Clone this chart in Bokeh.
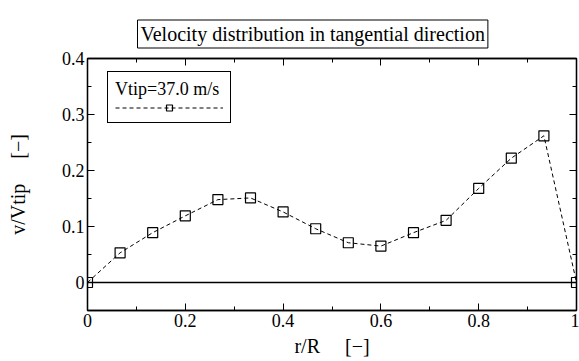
from bokeh.plotting import figure
from bokeh.models import (Range1d, LinearAxis, FixedTicker, CustomJSTickFormatter,
                          Span, Title, Legend, LegendItem)
from bokeh.embed import file_html
from bokeh.resources import INLINE

# data
r_R = [0, 1/15, 2/15, 3/15, 4/15, 5/15, 6/15, 7/15, 8/15, 9/15, 10/15, 11/15, 12/15, 13/15, 14/15, 1.0]
v_Vtip = [0.0, 0.053, 0.089, 0.119, 0.148, 0.151, 0.126, 0.096, 0.071, 0.065,
          0.089, 0.111, 0.168, 0.222, 0.262, 0.0]
x_ticks = [0, 0.2, 0.4, 0.6, 0.8, 1.0]
x_minor = [0.1, 0.3, 0.5, 0.7, 0.9]
y_ticks = [0, 0.1, 0.2, 0.3, 0.4]
y_minor = [-0.05, 0.05, 0.15, 0.25, 0.35]
title_text = "Velocity distribution in tangential direction"
legend_text = "Vtip=37.0 m/s"

FONT = "'Liberation Serif', serif"
NB = "\u00a0"

p = figure(width=579, height=361, output_backend="svg", toolbar_location=None,
           x_range=Range1d(0, 1), y_range=Range1d(-0.05, 0.4),
           x_axis_location=None, y_axis_location=None,
           min_border_left=87, min_border_right=3, min_border_top=58, min_border_bottom=51)
p.grid.visible = False
p.outline_line_color = "black"
p.outline_line_width = 1.3
p.background_fill_color = "white"
p.border_fill_color = "white"

fmt = CustomJSTickFormatter(code="return tick.toFixed(1).replace(/\\.0$/, '');")

def make_axis(ticks, minor, labels, label_text=""):
    ax = LinearAxis(ticker=FixedTicker(ticks=ticks, minor_ticks=minor))
    ax.major_tick_in = 7
    ax.major_tick_out = 0
    ax.minor_tick_in = 4
    ax.minor_tick_out = 0
    ax.axis_line_color = "black"
    ax.axis_line_width = 1.3
    ax.major_tick_line_color = "black"
    ax.minor_tick_line_color = "black"
    ax.major_label_text_font = FONT
    ax.major_label_text_font_size = "18px"
    ax.major_label_text_color = "black"
    if labels:
        ax.formatter = fmt
        ax.axis_label = label_text
        ax.axis_label_text_font = FONT
        ax.axis_label_text_font_size = "20px"
        ax.axis_label_text_font_style = "normal"
        ax.axis_label_text_color = "black"
        ax.major_label_standoff = 3
    else:
        ax.major_label_text_font_size = "0px"
        ax.major_label_text_alpha = 0
        ax.major_label_standoff = 0
    return ax

xb = make_axis(x_ticks, x_minor, True, "r/R" + NB * 5 + "[\u2212]")
xb.axis_label_standoff = 5
yl = make_axis(y_ticks, y_minor, True, "v/Vtip" + NB * 5 + "[\u2212]")
yl.major_label_orientation = "horizontal"
yl.axis_label_standoff = 30
xt = make_axis(x_ticks, x_minor, False)
yr = make_axis(y_ticks, y_minor, False)
p.add_layout(xb, "below")
p.add_layout(yl, "left")
p.add_layout(xt, "above")
p.add_layout(yr, "right")

p.title = Title(text=title_text, align="left", offset=50, text_font=FONT,
                text_font_size="20px", text_font_style="normal", text_color="black",
                border_line_color="black", border_line_width=1,
                background_fill_color="white", padding=3, standoff=21)

p.add_layout(Span(location=0, dimension="width", line_color="black", line_width=1.5))

ln = p.line(r_R, v_Vtip, line_color="black", line_dash="4 3", line_width=1)
sc = p.scatter(r_R, v_Vtip, marker="square", size=10, line_color="black",
               fill_alpha=0, line_width=1.2)

legend = Legend(items=[LegendItem(label="", renderers=[ln, sc])],
                location=(20, 187), title=legend_text,
                title_text_font="serif", title_text_font_size="18px",
                title_text_font_style="normal", title_text_color="black", title_standoff=0,
                glyph_width=108, glyph_height=15, label_width=0,
                label_standoff=0, label_text_font_size="1px",
                border_line_color="black", border_line_alpha=1, border_line_width=1,
                background_fill_alpha=1, padding=7, spacing=0, margin=0)
p.add_layout(legend)

open("out.html", "w").write(file_html(p, INLINE))
